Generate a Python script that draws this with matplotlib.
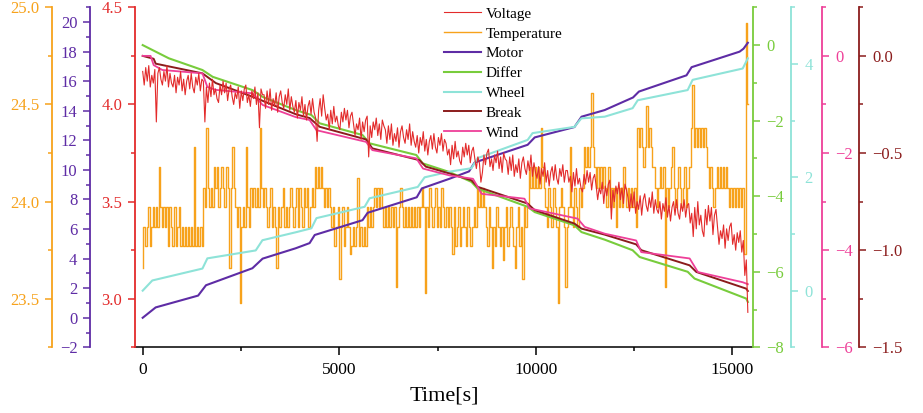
import matplotlib
matplotlib.use('Agg')
import matplotlib.pyplot as plt
from matplotlib.ticker import MultipleLocator
import numpy as np

plt.rcParams['font.family'] = ['Liberation Serif', 'DejaVu Serif']
plt.rcParams['axes.unicode_minus'] = True

T_END = 15390

# noisy series, sampled evenly over 0..T_END
voltage = [
    4.17, 4.10, 4.19, 4.12, 4.20, 4.09, 4.15, 4.11, 4.18, 3.91, 4.16, 4.19, 4.13, 4.10, 4.17, 4.12, 4.20, 4.09, 4.16, 4.11,
    4.09, 4.15, 4.06, 4.14, 4.10, 4.17, 4.07, 4.13, 4.05, 4.12, 4.15, 4.08, 4.16, 4.09, 4.06, 4.14, 4.10, 4.16, 4.07, 4.13,
    4.12, 3.91, 4.09, 4.01, 4.11, 4.04, 4.13, 4.05, 4.08, 4.03, 4.01, 4.10, 4.05, 4.12, 4.06, 4.11, 4.02, 4.08, 4.10, 4.04,
    4.00, 4.06, 4.03, 4.09, 3.98, 4.07, 4.02, 4.08, 4.10, 4.01, 4.05, 3.99, 4.07, 4.03, 4.09, 4.00, 4.06, 3.88, 4.08, 4.05,
    4.05, 3.98, 4.07, 4.00, 4.08, 3.97, 4.03, 3.99, 4.06, 3.96, 4.04, 4.07, 4.01, 3.98, 4.05, 4.00, 4.08, 3.97, 4.04, 3.99,
    3.96, 4.02, 3.93, 4.01, 3.97, 4.04, 3.94, 4.00, 3.92, 3.99, 4.02, 3.95, 4.03, 3.96, 3.93, 3.81, 3.97, 4.03, 3.94, 4.05,
    3.98, 3.92, 3.95, 3.87, 3.97, 3.90, 3.99, 3.91, 3.94, 3.89, 3.87, 3.96, 3.91, 3.98, 3.92, 3.97, 3.88, 3.94, 3.96, 3.90,
    3.84, 3.90, 3.87, 3.93, 3.82, 3.91, 3.86, 3.92, 3.94, 3.73, 3.89, 3.83, 3.91, 3.87, 3.93, 3.84, 3.90, 3.82, 3.92, 3.89,
    3.87, 3.80, 3.89, 3.82, 3.90, 3.79, 3.85, 3.81, 3.88, 3.78, 3.86, 3.89, 3.83, 3.80, 3.87, 3.82, 3.90, 3.79, 3.86, 3.81,
    3.78, 3.84, 3.75, 3.83, 3.79, 3.86, 3.76, 3.82, 3.74, 3.81, 3.84, 3.77, 3.85, 3.78, 3.75, 3.83, 3.79, 3.85, 3.76, 3.82,
    3.80, 3.74, 3.77, 3.69, 3.79, 3.72, 3.81, 3.73, 3.76, 3.71, 3.69, 3.78, 3.73, 3.80, 3.74, 3.79, 3.70, 3.76, 3.78, 3.72,
    3.67, 3.73, 3.70, 3.60, 3.65, 3.74, 3.69, 3.75, 3.77, 3.68, 3.72, 3.66, 3.74, 3.70, 3.76, 3.67, 3.73, 3.65, 3.75, 3.72,
    3.71, 3.64, 3.73, 3.66, 3.74, 3.63, 3.69, 3.65, 3.72, 3.62, 3.70, 3.73, 3.67, 3.64, 3.71, 3.66, 3.74, 3.63, 3.70, 3.65,
    3.62, 3.68, 3.59, 3.67, 3.63, 3.70, 3.60, 3.66, 3.58, 3.65, 3.68, 3.61, 3.69, 3.62, 3.59, 3.67, 3.63, 3.69, 3.60, 3.66,
    3.66, 3.60, 3.63, 3.55, 3.65, 3.58, 3.67, 3.59, 3.62, 3.57, 3.55, 3.64, 3.59, 3.66, 3.60, 3.65, 3.56, 3.62, 3.64, 3.58,
    3.51, 3.57, 3.54, 3.60, 3.49, 3.58, 3.53, 3.59, 3.61, 3.41, 3.56, 3.50, 3.58, 3.54, 3.60, 3.51, 3.57, 3.49, 3.59, 3.56,
    3.52, 3.45, 3.54, 3.47, 3.55, 3.44, 3.50, 3.46, 3.53, 3.43, 3.51, 3.54, 3.48, 3.45, 3.52, 3.47, 3.55, 3.44, 3.51, 3.46,
    3.44, 3.50, 3.41, 3.49, 3.45, 3.52, 3.42, 3.48, 3.40, 3.47, 3.50, 3.43, 3.51, 3.44, 3.41, 3.49, 3.45, 3.51, 3.42, 3.48,
    3.49, 3.39, 3.44, 3.32, 3.47, 3.36, 3.50, 3.38, 3.43, 3.35, 3.32, 3.46, 3.38, 3.48, 3.40, 3.47, 3.33, 3.43, 3.46, 3.37,
    3.28, 3.35, 3.31, 3.38, 3.26, 3.36, 3.30, 3.37, 3.39, 3.28, 3.33, 3.25, 3.34, 3.29, 3.35, 3.24, 3.30, 3.12, 3.20, 2.93,
]

temperature = [
    23.66, 23.87, 23.77, 23.87, 23.97, 23.77, 23.87,
    23.97, 23.87, 23.97, 23.87, 24.18, 23.97, 23.87, 23.97, 23.87, 23.97,
    23.77, 23.97, 23.87, 23.77, 23.97, 23.77, 23.87, 23.97, 23.77, 23.87, 23.77,
    23.87, 23.77, 23.87, 23.77, 23.87, 23.77, 24.28, 23.77, 23.87, 23.77, 23.87, 23.77,
    24.07, 23.97, 24.38, 24.07, 23.97, 24.07, 23.97,
    24.18, 24.07, 24.18, 23.97, 24.07, 24.18, 24.07, 23.97, 24.18, 24.07, 23.66, 24.07, 24.28, 24.07,
    23.97, 23.87, 23.97, 23.48, 23.87, 23.97, 23.87, 24.28, 23.97, 23.87,
    24.07, 23.97, 24.07, 23.97, 24.07, 23.97, 24.38, 24.07, 23.97, 24.07,
    23.97, 23.87, 23.97, 24.07, 23.87, 23.97, 23.87, 23.66, 23.97, 23.87,
    23.97, 24.07, 23.87, 23.97, 23.87, 23.97, 24.07, 23.97, 23.87, 23.97,
    24.07, 23.87, 24.07, 23.97, 23.87, 24.07, 23.97, 24.07, 23.87, 23.97, 24.07, 23.97,
    24.18, 24.07, 24.18, 24.07, 24.18,
    24.07, 23.97, 24.07, 23.97, 24.07,
    23.97, 23.87, 23.97, 23.77, 23.87, 23.97, 23.60, 23.87, 23.97, 23.77, 23.87, 23.97, 23.87,
    23.73, 23.77, 23.87, 23.77, 23.87, 24.12, 23.77, 23.87, 23.77, 23.87, 23.77,
    23.97, 23.87, 23.97, 23.87, 23.97,
    24.07, 23.97, 24.07, 23.97, 24.07,
    23.97, 23.87, 23.97, 23.87, 23.97, 23.87, 23.97, 23.87, 23.97, 23.56, 23.87, 23.97, 24.07,
    23.97, 23.87, 23.97, 23.87, 23.97, 23.87, 23.97, 23.87, 23.97, 23.87, 23.97, 23.87, 23.97,
    24.07, 23.97, 23.53, 23.97, 23.87, 24.07, 23.97, 23.87, 23.97,
    24.07, 23.87, 23.97, 23.87, 24.07, 23.97, 23.87, 23.97, 23.87,
    23.97, 23.87, 23.73, 23.97, 23.77, 23.87, 23.97, 23.77, 23.87,
    23.97, 23.87, 23.77, 23.97, 23.87, 23.77, 23.87, 23.97, 23.87,
    24.07, 23.97, 24.07, 23.97, 24.07, 23.97,
    23.87, 23.77, 23.97, 23.87, 23.66, 23.87, 23.77, 23.97, 23.87, 23.77, 23.87, 23.70, 23.87, 23.97,
    23.77, 23.87, 23.97, 23.87, 23.77, 23.66, 23.87, 23.97, 23.77, 23.87, 23.60, 23.97, 23.87, 23.97,
    24.18, 24.07, 24.18, 24.07, 24.18, 24.07, 24.18, 24.07, 24.38, 24.18,
    24.07, 23.97, 23.87, 24.07, 23.97, 23.87, 24.07, 23.97, 23.87, 23.48, 23.97, 24.07, 23.97,
    23.87, 23.56, 23.87, 23.97, 24.28, 23.97, 23.87, 24.07, 23.97, 23.87, 24.07, 23.97, 24.07,
    24.28, 24.18, 24.28, 24.18, 24.28, 24.56, 24.28,
    24.18, 24.07, 24.18, 24.07, 24.18, 24.07, 24.18,
    24.07, 23.97, 24.18, 23.97, 24.07, 23.97, 24.07, 23.87, 24.07, 23.97, 24.07,
    23.97, 24.18, 24.07, 23.97, 24.07, 23.97, 24.07, 23.97, 24.07, 23.87,
    24.38, 24.28, 24.38, 24.28, 24.18, 24.28, 24.49, 24.28, 24.38, 24.28, 24.18,
    24.18, 24.07, 23.97, 24.07, 24.18, 24.07, 24.18, 23.56, 24.07, 23.97, 24.07, 24.18,
    24.28, 24.07, 23.97, 24.07, 24.18, 24.07, 23.97, 24.07, 24.18, 23.97, 24.07, 24.18,
    24.38, 24.60, 24.28, 24.38, 24.28, 24.38, 24.28, 24.38, 24.28, 24.38, 24.28,
    24.18, 24.07, 24.18, 24.07, 23.97, 24.07, 24.18, 24.07, 24.18, 24.07, 24.18, 24.07,
    24.18, 24.07, 23.97, 24.07, 23.97, 24.07, 23.97, 24.07, 23.97, 24.07, 23.97, 24.07,
    23.73, 24.92, 24.50,
]

# smoother series, read at their corners
motor_t = [0, 330, 1410, 1610, 2790, 3050, 3890, 4245, 4375, 5590, 5720, 6970, 7100,
           7800, 8300, 8440, 9790, 9970, 10980, 11160, 11750, 12470, 12620, 13830,
           13960, 15180, 15280, 15390]
motor = [0.0, 0.7, 1.5, 2.2, 3.35, 4.0, 4.7, 5.05, 5.6, 6.6, 7.1, 8.15, 8.75,
         9.4, 9.9, 10.5, 11.7, 12.2, 12.9, 13.6, 14.05, 14.9, 15.3, 16.4,
         16.95, 18.0, 18.2, 18.6]

differ_t = [0, 665, 1520, 1780, 2790, 3050, 3890, 4290, 4500, 5590, 5770, 6960, 7120,
            7800, 8360, 8520, 9790, 9970, 10980, 11160, 11750, 12460, 12640, 13860,
            14035, 15350, 15390]
differ = [0.0, -0.35, -0.66, -0.84, -1.19, -1.37, -1.72, -1.85, -2.07, -2.38, -2.6,
          -2.91, -3.13, -3.36, -3.62, -3.8, -4.28, -4.42, -4.77, -4.95, -5.15, -5.43,
          -5.61, -6.0, -6.18, -6.71, -6.8]

wheel_t = [0, 245, 1520, 1645, 2875, 3045, 3890, 4290, 4420, 5645, 5770, 6995, 7170,
           7800, 8360, 8520, 9790, 9915, 10980, 11155, 11750, 12460, 12590, 13860,
           13985, 15260, 15390]
wheel = [0.0, 0.18, 0.39, 0.57, 0.71, 0.89, 1.03, 1.1, 1.28, 1.48, 1.63, 1.83, 2.0,
         2.1, 2.16, 2.34, 2.66, 2.78, 2.89, 3.04, 3.07, 3.22, 3.36, 3.54, 3.72, 3.92, 4.1]

break_t = [0, 280, 330, 1520, 1860, 2790, 3890, 4245, 4500, 5680, 5840, 7040, 7200,
           7800, 8360, 8520, 9790, 9970, 10980, 11160, 11750, 12550, 12680, 13910,
           14080, 15350, 15390]
brake = [0.0, -0.015, -0.04, -0.09, -0.14, -0.21, -0.30, -0.32, -0.365, -0.43, -0.476,
         -0.537, -0.57, -0.605, -0.64, -0.674, -0.76, -0.794, -0.863, -0.889, -0.92,
         -0.97, -1.0, -1.078, -1.112, -1.198, -1.21]

wind_t = [0, 200, 280, 500, 1520, 1645, 1860, 2790, 3050, 3890, 4245, 4420, 5680, 5840,
          6960, 7130, 7800, 8400, 8620, 9710, 9840, 11060, 11240, 11750, 12550, 12680,
          13910, 14120, 15260, 15390]
wind = [0.0, 0.0, -0.19, -0.29, -0.36, -0.64, -0.7, -0.77, -1.01, -1.26, -1.32, -1.53,
        -1.77, -1.94, -2.11, -2.32, -2.46, -2.53, -2.84, -2.94, -3.14, -3.35, -3.52,
        -3.66, -3.8, -4.04, -4.17, -4.45, -4.66, -4.7]

C_VOLT = '#e32b2b'
C_TEMP = '#f7a21b'
C_MOTOR = '#5e2ca5'
C_DIFF = '#78cc3c'
C_WHEEL = '#8ee3d8'
C_BREAK = '#8b1c1c'
C_WIND = '#ee3f98'

fig = plt.figure(figsize=(9.23, 4.13), dpi=100)
# host axes carries Temperature and the time axis; drawn first so it sits underneath
ax = fig.add_axes([0.1468, 0.159, 0.6693, 0.8233])


def style_axis(a, side, pos, color, ylim, major, minor):
    for s in a.spines.values():
        s.set_visible(False)
    sp = a.spines[side]
    sp.set_visible(True)
    sp.set_color(color)
    sp.set_linewidth(1.3)
    sp.set_position(('axes', pos))
    a.yaxis.set_ticks_position(side)
    a.yaxis.set_label_position(side)
    a.set_ylim(*ylim)
    a.yaxis.set_major_locator(MultipleLocator(major))
    a.yaxis.set_minor_locator(MultipleLocator(minor))
    a.tick_params(axis='y', which='both', direction='out', colors=color,
                  labelsize=12, width=1.1, pad=4.5)
    a.tick_params(axis='y', which='major', length=5)
    a.tick_params(axis='y', which='minor', length=2.8)


style_axis(ax, 'left', -0.1345, C_TEMP, (23.25, 25.0), 0.5, 0.25)
ax.spines['bottom'].set_visible(True)
ax.spines['bottom'].set_color('black')
ax.spines['bottom'].set_linewidth(1.1)
ax.set_xlim(-183, 15528)
ax.xaxis.set_major_locator(MultipleLocator(5000))
ax.xaxis.set_minor_locator(MultipleLocator(2500))
ax.tick_params(axis='x', which='both', direction='out', labelsize=12.5, width=1.1, pad=5)
ax.tick_params(axis='x', which='major', length=5.5)
ax.tick_params(axis='x', which='minor', length=3)
ax.set_xlabel('Time[s]', fontsize=16, labelpad=6)

ax_motor = ax.twinx()
style_axis(ax_motor, 'left', -0.0729, C_MOTOR, (-2, 21), 2, 1)
ax_diff = ax.twinx()
style_axis(ax_diff, 'right', 1.0, C_DIFF, (-8, 1), 2, 1)
ax_wheel = ax.twinx()
style_axis(ax_wheel, 'right', 1.0616, C_WHEEL, (-1, 5), 2, 1)
ax_break = ax.twinx()
style_axis(ax_break, 'right', 1.171, C_BREAK, (-1.5, 0.25), 0.5, 0.25)
ax_wind = ax.twinx()
style_axis(ax_wind, 'right', 1.1118, C_WIND, (-6, 1), 2, 1)
ax_volt = ax.twinx()
style_axis(ax_volt, 'left', 0.0, C_VOLT, (2.75, 4.5), 0.5, 0.25)

t_volt = np.linspace(0, T_END, len(voltage))
t_temp = np.linspace(0, T_END, len(temperature))

h2, = ax.plot(t_temp, temperature, color=C_TEMP, lw=1.0, drawstyle='steps-mid',
              label='Temperature')
h3, = ax_motor.plot(motor_t, motor, color=C_MOTOR, lw=1.5, label='Motor')
h4, = ax_diff.plot(differ_t, differ, color=C_DIFF, lw=1.5, label='Differ')
h5, = ax_wheel.plot(wheel_t, wheel, color=C_WHEEL, lw=1.5, label='Wheel')
h6, = ax_break.plot(break_t, brake, color=C_BREAK, lw=1.4, label='Break')
h7, = ax_wind.plot(wind_t, wind, color=C_WIND, lw=1.3, label='Wind')
h1, = ax_volt.plot(t_volt, voltage, color=C_VOLT, lw=0.8, label='Voltage')

fig.legend(handles=[h1, h2, h3, h4, h5, h6, h7], loc='upper left',
           bbox_to_anchor=(0.481, 0.983), frameon=False, fontsize=11,
           borderpad=0, borderaxespad=0, handlelength=2.4, handletextpad=0.35,
           labelspacing=0.4)

fig.savefig('out.png', dpi=100)
